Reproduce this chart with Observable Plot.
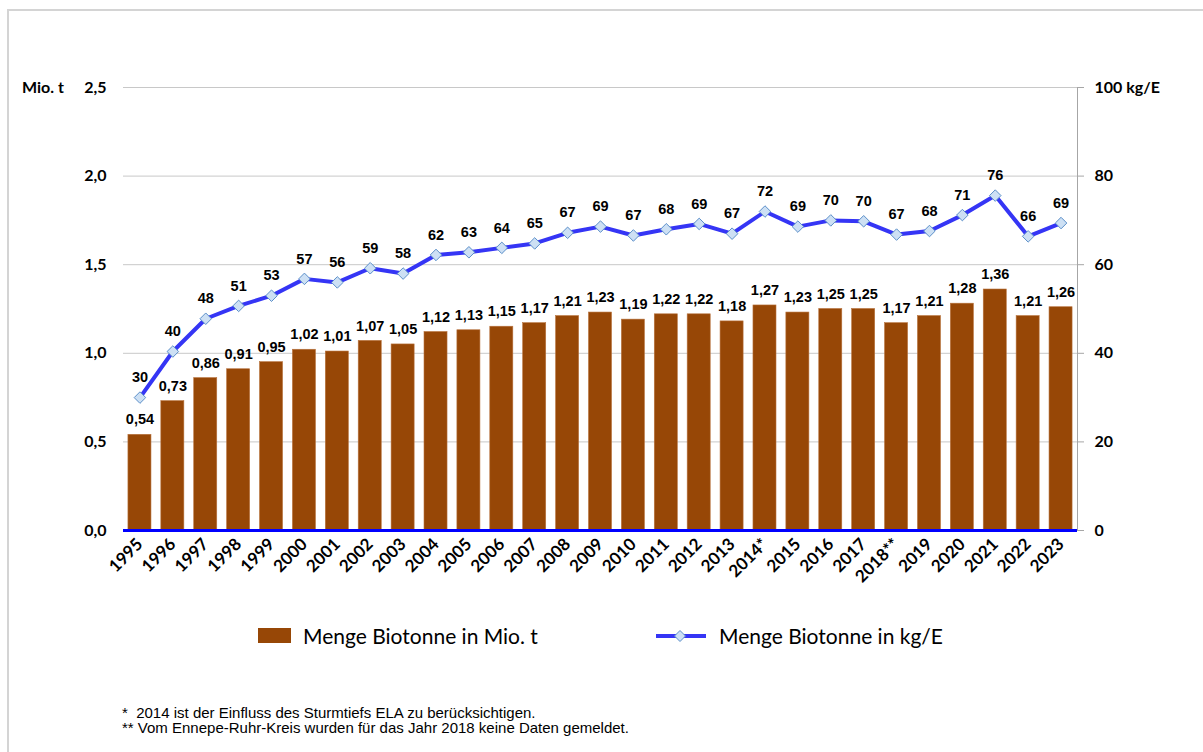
<!DOCTYPE html>
<html>
<head>
<meta charset="utf-8">
<script src="https://cdn.jsdelivr.net/npm/d3@7"></script>
<script src="https://cdn.jsdelivr.net/npm/@observablehq/plot@0.6"></script>
<style>
  html, body { margin: 0; padding: 0; background: #fff; }
  #wrap { position: relative; width: 1203px; height: 752px; overflow: hidden; font-family: "Liberation Sans", Arial, sans-serif; }
  #border { position: absolute; left: 7px; top: 9px; width: 1210px; height: 760px; border-top: 2px solid #d4d4d4; border-left: 2px solid #d4d4d4; }
  #chart { position: absolute; left: 0; top: 0; }
  .unit { position: absolute; font-family: Lato, "Open Sans", sans-serif; font-weight: bold; font-size: 16px; color: #000; }
  .leg { position: absolute; font-family: Lato, "Open Sans", sans-serif; font-size: 21px; color: #000; display: flex; align-items: center; }
  .foot { position: absolute; left: 122px; font-family: "Liberation Sans", Arial, sans-serif; font-size: 15px; color: #000; line-height: 15px; }
</style>
</head>
<body>
<div id="wrap">
  <div id="border"></div>
  <div id="chart"></div>
  <div class="unit" style="left:22px; top:77px;">Mio. t</div>
  <div class="leg" style="left:258px; top:623px;">
    <span style="display:inline-block;width:33px;height:15px;background:#974706;margin-right:12px;"></span>Menge Biotonne in Mio. t
  </div>
  <div class="leg" style="left:655px; top:623px;">
    <svg width="52" height="20" style="margin-right:12px;"><line x1="1" y1="10" x2="51" y2="10" stroke="#3535f5" stroke-width="4"/><path d="M25,4.5 L30.5,10 L25,15.5 L19.5,10 Z" fill="#cde0f4" stroke="#5b8fc9" stroke-width="1"/></svg>Menge Biotonne in kg/E
  </div>
  <div class="foot" style="top:705px;">*&nbsp;&nbsp;2014 ist der Einfluss des Sturmtiefs ELA zu berücksichtigen.</div>
  <div class="foot" style="top:720px;">** Vom Ennepe-Ruhr-Kreis wurden für das Jahr 2018 keine Daten gemeldet.</div>
</div>
<script>
const years = ["1995","1996","1997","1998","1999","2000","2001","2002","2003","2004","2005","2006","2007","2008","2009","2010","2011","2012","2013","2014*","2015","2016","2017","2018**","2019","2020","2021","2022","2023"];
const mengeMioT = [0.54,0.73,0.86,0.91,0.95,1.02,1.01,1.07,1.05,1.12,1.13,1.15,1.17,1.21,1.23,1.19,1.22,1.22,1.18,1.27,1.23,1.25,1.25,1.17,1.21,1.28,1.36,1.21,1.26];
const mengeKgE = [30,40.4,47.8,50.7,53,56.8,56,59.2,58,62.2,62.8,63.8,64.8,67.2,68.6,66.6,68,69.2,67,72,68.6,70,69.8,66.8,67.6,71.2,75.6,66.4,69.4];
const leftTicks = [0,0.5,1,1.5,2,2.5];
const rightTicks = [0,20,40,60,80,100];

// right axis (kg/E) shares the y scale: 100 kg/E corresponds to 2.5 Mio. t
const ratio = 100 / 2.5;
const data = years.map((y, i) => ({year: y, t: mengeMioT[i], kg: mengeKgE[i]}));
const comma = (v, d) => v.toFixed(d).replace(".", ",");

const plot = Plot.plot({
  width: 1203,
  height: 600,
  marginTop: 87,
  marginBottom: 70,
  marginLeft: 123,
  marginRight: 126,
  style: {fontFamily: "Lato, 'Open Sans', sans-serif", background: "transparent"},
  x: {domain: years, paddingInner: 0.3, paddingOuter: 0.15, round: false},
  y: {domain: [0, 2.5]},
  marks: [
    Plot.gridY(leftTicks.filter(d => d > 0), {stroke: "#c8c8c8", strokeOpacity: 1, strokeWidth: 1}),
    Plot.frame({anchor: "right", stroke: "#a6a6a6"}),
    Plot.barY(data, {x: "year", y: "t", fill: "#974706", stroke: "#b8723d", strokeWidth: 0.6}),
    Plot.ruleY([0], {stroke: "#0000ff", strokeWidth: 3}),
    Plot.line(data, {x: "year", y: d => d.kg / ratio, stroke: "#3535f5", strokeWidth: 4, curve: "linear"}),
    Plot.dot(data, {x: "year", y: d => d.kg / ratio, symbol: "diamond2", r: 5.2, fill: "#cde0f4", stroke: "#5b8fc9", strokeWidth: 1}),
    Plot.text(data, {x: "year", y: "t", text: d => comma(d.t, 2), dy: -15, fontFamily: "'Liberation Sans', Arial, sans-serif", fontWeight: "bold", fontSize: 14.5, fill: "#000"}),
    Plot.text(data, {x: "year", y: d => d.kg / ratio, text: d => String(Math.round(d.kg)), dy: -20, fontFamily: "'Liberation Sans', Arial, sans-serif", fontWeight: "bold", fontSize: 14.5, fill: "#000"}),
    Plot.axisY(leftTicks, {anchor: "left", label: null, tickSize: 0, tickPadding: 17, tickFormat: d => comma(d, 1), fontSize: 16, fontWeight: "bold", fill: "#000"}),
    Plot.axisY(rightTicks.map(v => v / ratio), {anchor: "right", label: null, tickSize: 6, tickPadding: 11, stroke: "#a6a6a6", tickFormat: d => { const v = Math.round(d * ratio); return v === 100 ? "100 kg/E" : String(v); }, fontSize: 16, fontWeight: "bold", fill: "#000"}),
    Plot.axisX({tickRotate: -45, label: null, tickSize: 0, tickPadding: 11, fontSize: 17, fontWeight: "bold", fill: "#000"})
  ]
});
document.getElementById("chart").appendChild(plot);
</script>
</body>
</html>
